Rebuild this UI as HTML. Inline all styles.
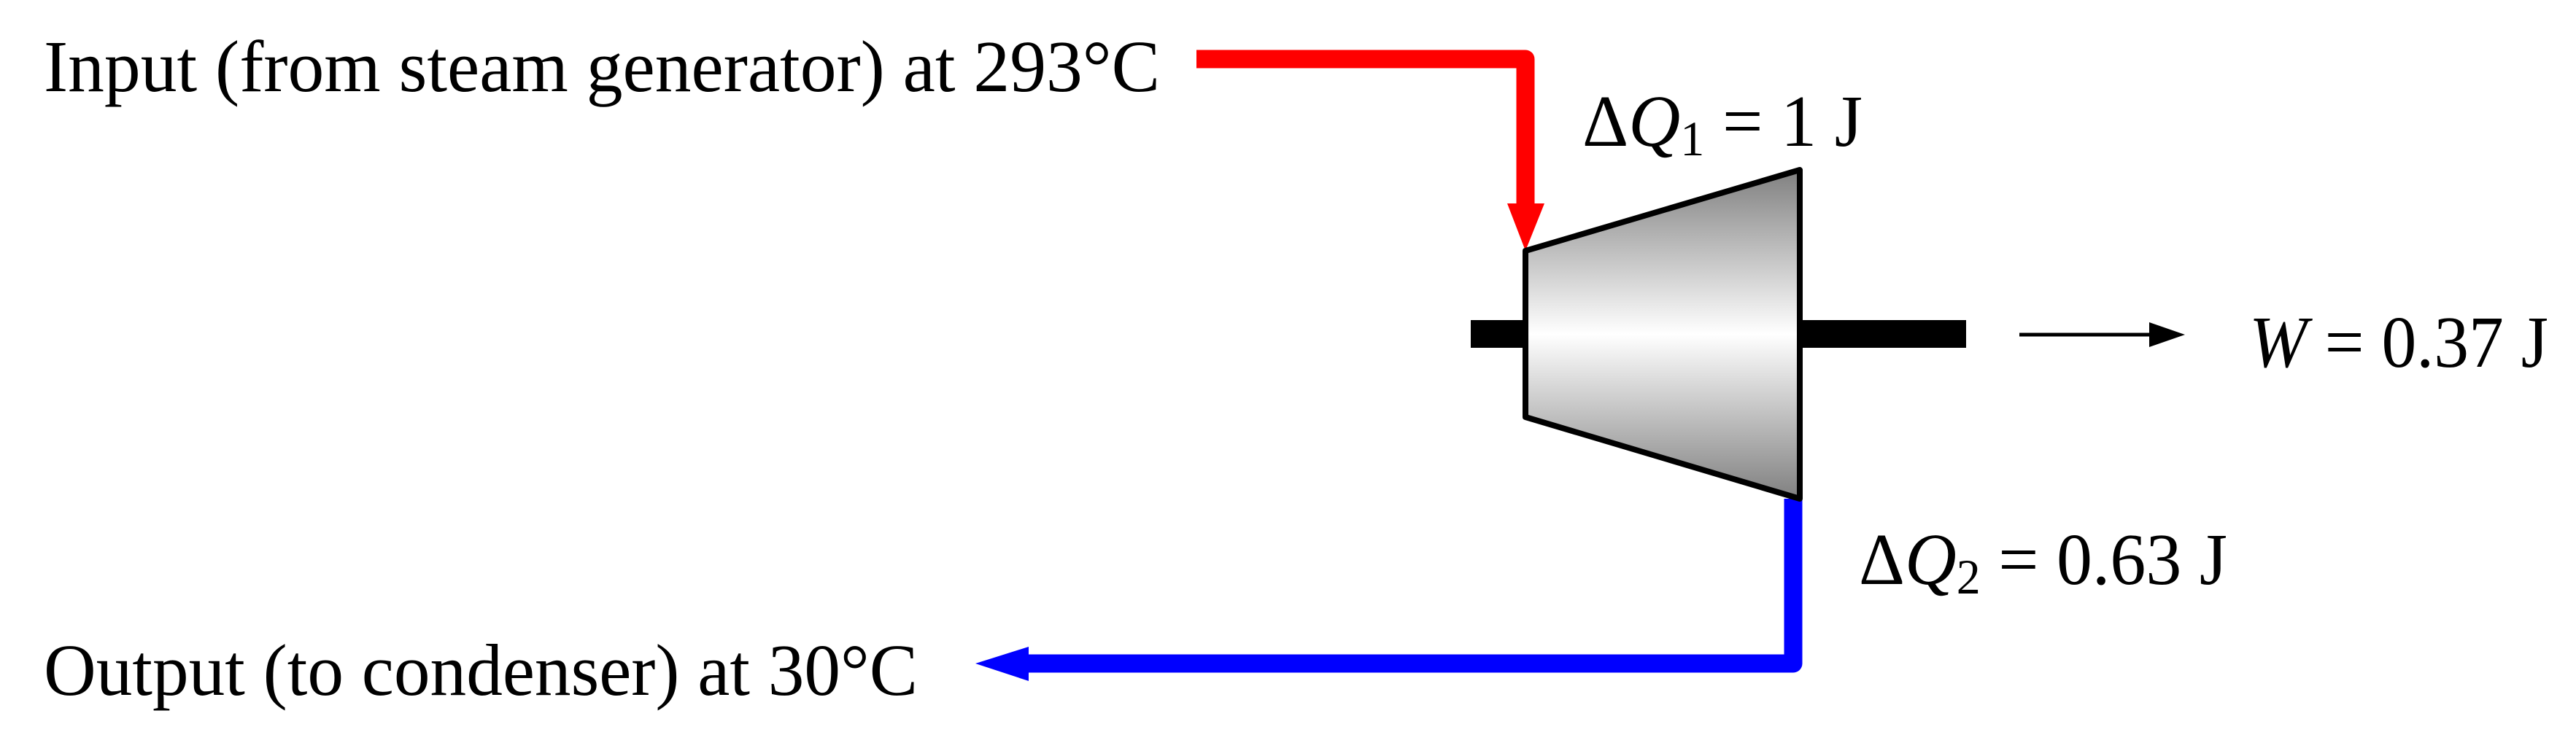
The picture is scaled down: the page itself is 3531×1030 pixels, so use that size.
<!DOCTYPE html>
<html><head><style>html,body{margin:0;padding:0;background:#fff;}svg{display:block}</style></head>
<body>
<svg width="3531" height="1030" viewBox="0 0 3531 1030" xmlns="http://www.w3.org/2000/svg">
<defs>
<linearGradient id="g" x1="0" y1="0" x2="0" y2="1">
<stop offset="0" stop-color="#808080"/>
<stop offset="0.5" stop-color="#ffffff"/>
<stop offset="1" stop-color="#808080"/>
</linearGradient>
</defs>
<g font-family="Liberation Serif, serif" font-size="101" fill="#000">
<text x="60" y="125" textLength="1530" lengthAdjust="spacingAndGlyphs">Input (from steam generator) at 293°C</text>
<text x="60" y="953" textLength="1198" lengthAdjust="spacingAndGlyphs">Output (to condenser) at 30°C</text>
<text x="2169" y="200" textLength="384" lengthAdjust="spacingAndGlyphs">Δ<tspan font-style="italic">Q</tspan><tspan font-size="68" dy="13">1</tspan><tspan dy="-13"> = 1 J</tspan></text>
<text x="2548" y="801" textLength="505" lengthAdjust="spacingAndGlyphs">Δ<tspan font-style="italic">Q</tspan><tspan font-size="68" dy="13">2</tspan><tspan dy="-13"> = 0.63 J</tspan></text>
<text x="3083" y="503" textLength="410" lengthAdjust="spacingAndGlyphs"><tspan font-style="italic">W</tspan> = 0.37 J</text>
</g>
<rect x="2016" y="439" width="80" height="38" fill="#000"/>
<rect x="2465" y="439" width="230" height="38" fill="#000"/>
<path d="M1640 81 H2091 V285" fill="none" stroke="#ff0000" stroke-width="25" stroke-linejoin="round"/>
<polygon points="2066,279 2117,279 2091,344" fill="#ff0000"/>
<path d="M2458 684 V910 H1400" fill="none" stroke="#0000ff" stroke-width="25" stroke-linejoin="round"/>
<polygon points="1337,910 1410,887 1410,934" fill="#0000ff"/>
<polygon points="2091,344 2467,233 2467,684 2091,572" fill="url(#g)" stroke="#000" stroke-width="8" stroke-linejoin="round"/>
<line x1="2768" y1="459" x2="2950" y2="459" stroke="#000" stroke-width="5"/>
<polygon points="2946,442 2995,459 2946,476" fill="#000"/>
</svg>
</body></html>
